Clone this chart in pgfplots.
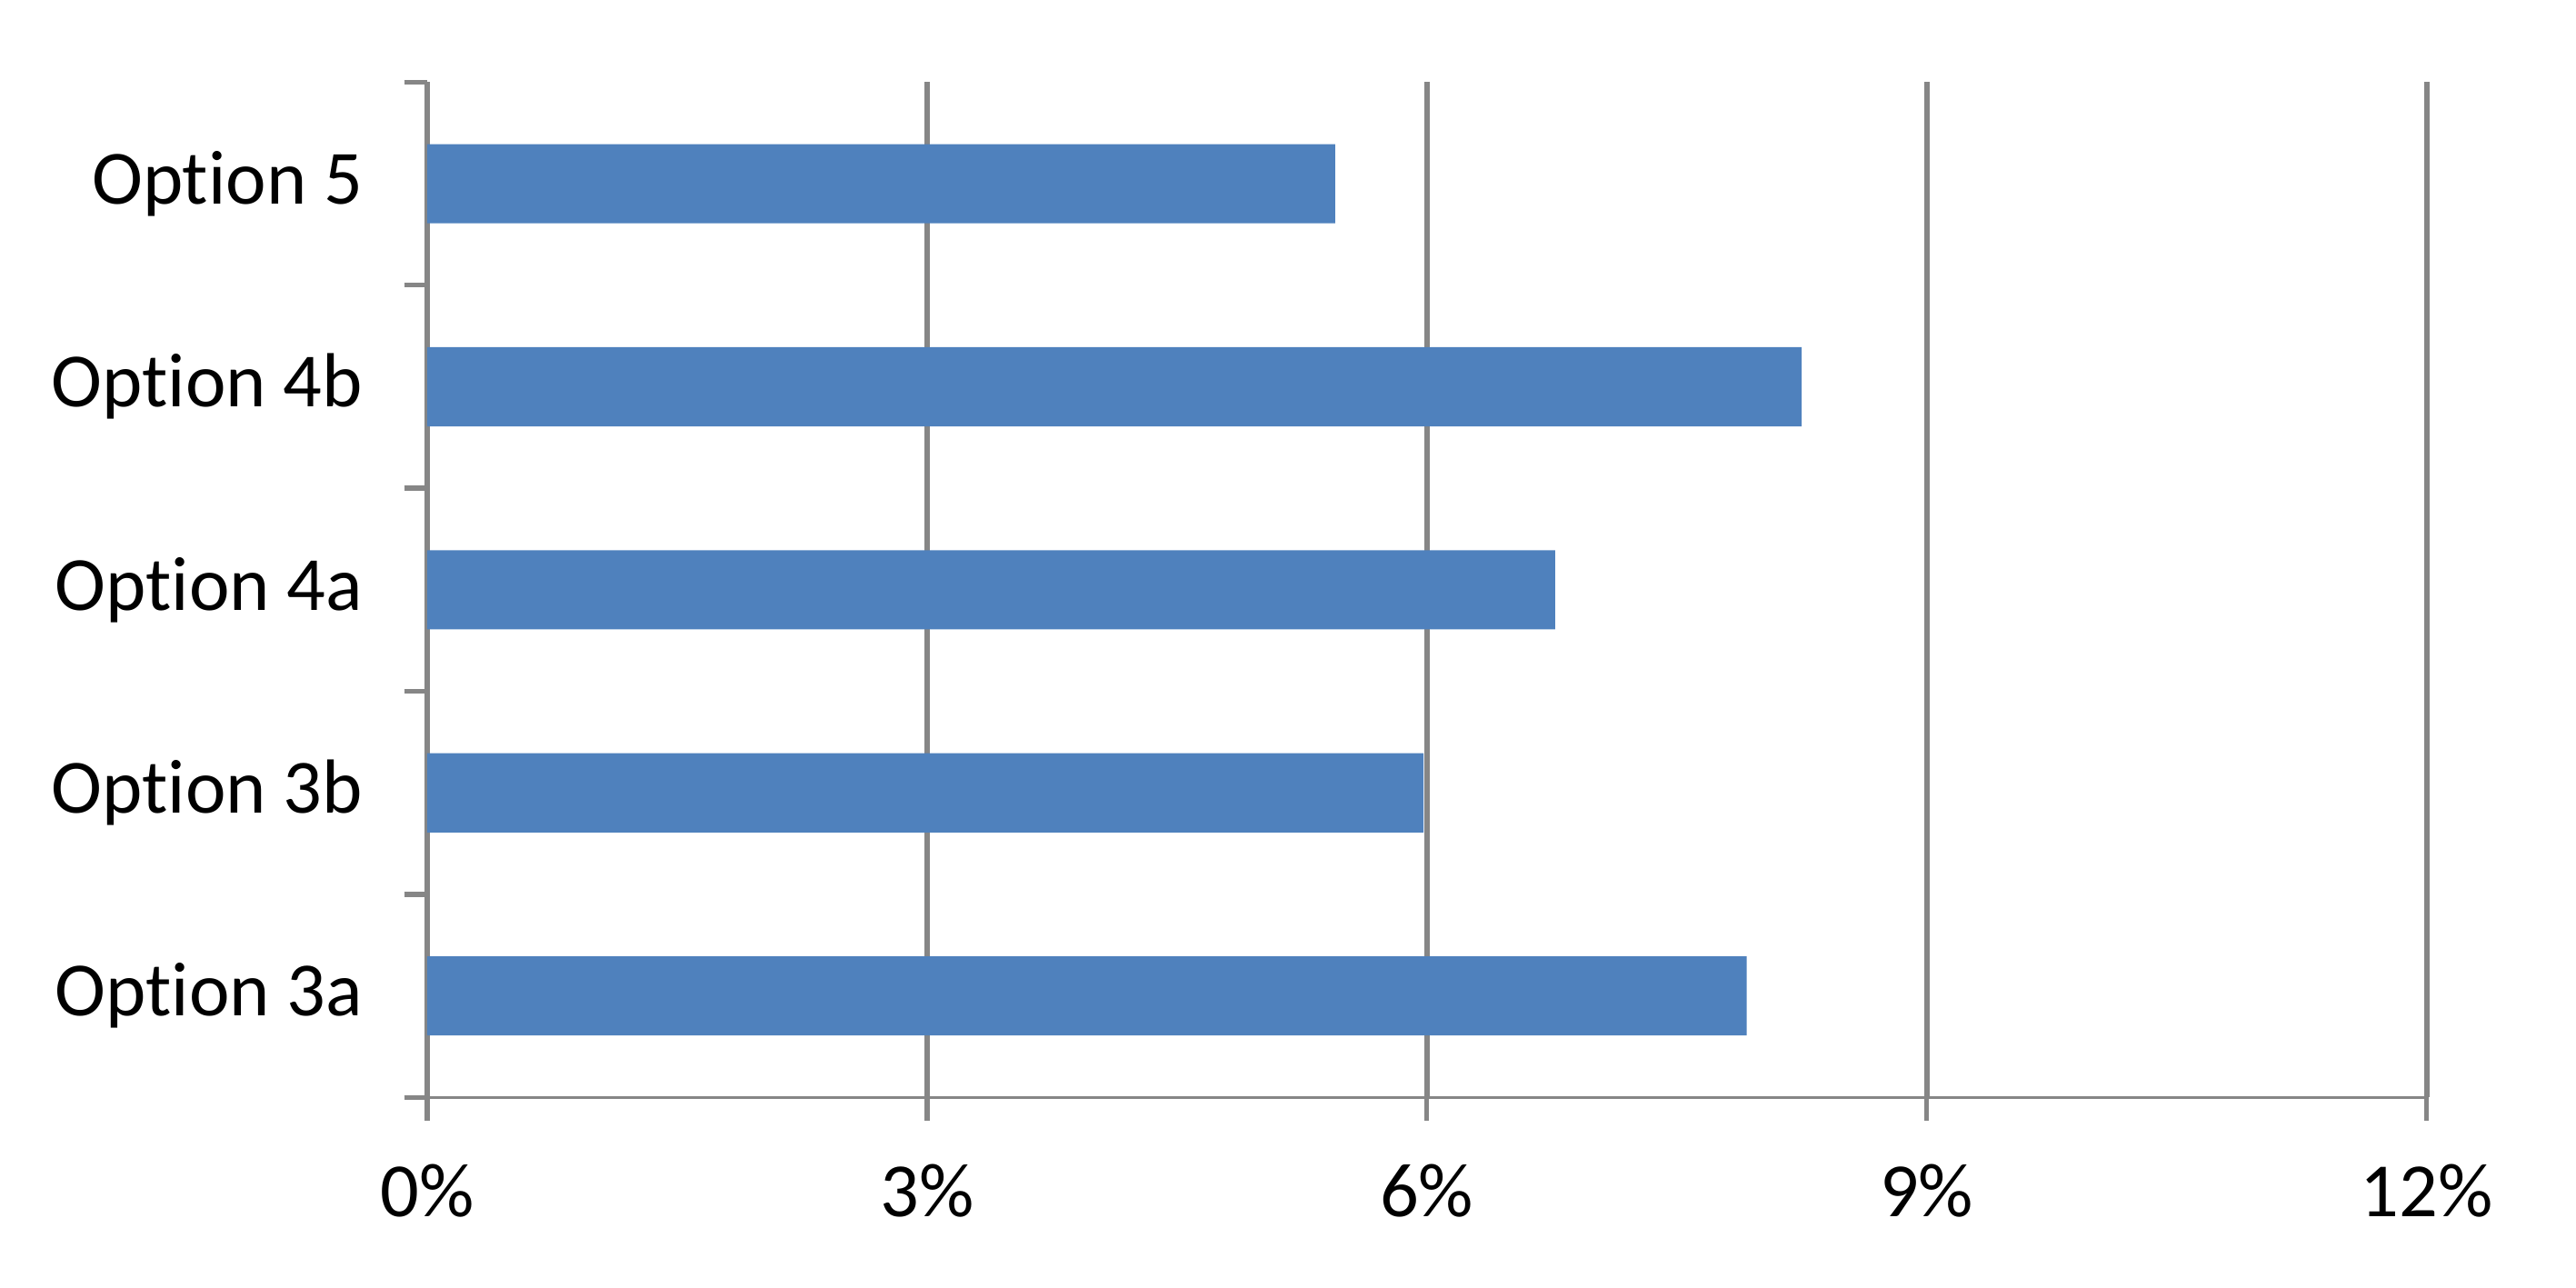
\documentclass[border=0pt]{standalone}
\usepackage{pgfplots}
\pgfplotsset{compat=1.18}
\usepackage{fontspec}
\setmainfont{Carlito}[Ligatures=NoCommon]
\definecolor{barblue}{HTML}{4F81BD}
\definecolor{axgray}{HTML}{868686}
\begin{document}
\begin{tikzpicture}
\begin{axis}[
    at={(0,0)}, anchor=south west,
    scale only axis,
    width=365.1pt, height=185.4pt,
    xbar, bar width=0.39,
    xmin=0, xmax=12,
    ymin=0.5, ymax=5.5,
    axis x line=bottom, axis y line=left,
    x axis line style={-, axgray, line width=0.5pt},
    y axis line style={-, axgray, line width=0.9pt},
    xtick={0,3,6,9,12},
    xticklabels={0\%,3\%,6\%,9\%,12\%},
    xmajorgrids=true,
    grid style={axgray, line width=1pt},
    ytick={1,2,3,4,5},
    yticklabels={Option 3a,Option 3b,Option 4a,Option 4b,Option 5},
    minor ytick={0.5,1.5,2.5,3.5,4.5,5.5},
    tick align=outside,
    major tick length=4.2pt, minor tick length=4.2pt,
    x tick style={axgray, line width=0.9pt},
    y tick style={axgray, line width=0.9pt},
    major y tick style={draw=none},
    tick label style={font=\fontsize{14}{16}\selectfont, black},
    yticklabel style={xshift=-4pt},
    xticklabel style={yshift=-4.5pt},
]
\addplot[fill=barblue, draw=none] coordinates {
    (7.92,1) (5.98,2) (6.77,3) (8.25,4) (5.45,5)
};
\end{axis}
\pgfresetboundingbox
\path[use as bounding box] (-78pt,-34.8pt) rectangle (392.4pt,200.4pt);
\end{tikzpicture}
\end{document}
